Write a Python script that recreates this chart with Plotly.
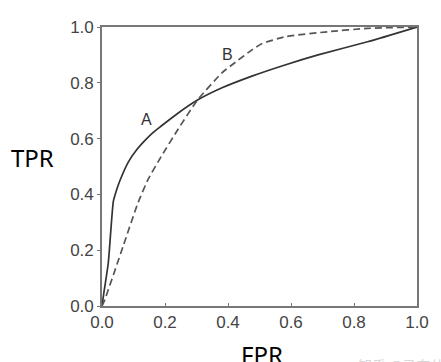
import plotly.graph_objects as go

# Curve A (solid)
fpr_a = [0, 0.005, 0.02, 0.036, 0.046, 0.057, 0.083, 0.11, 0.135, 0.16, 0.188, 0.24, 0.303, 0.381, 0.476, 0.581, 0.686, 0.843, 1.0]
tpr_a = [0, 0.04, 0.155, 0.375, 0.415, 0.45, 0.515, 0.56, 0.592, 0.62, 0.645, 0.69, 0.738, 0.782, 0.824, 0.864, 0.9, 0.947, 1.0]

# Curve B (dashed)
fpr_b = [0, 0.009, 0.067, 0.114, 0.146, 0.188, 0.24, 0.303, 0.381, 0.424, 0.476, 0.507, 0.581, 0.717, 0.843, 1.0]
tpr_b = [0, 0.023, 0.214, 0.369, 0.453, 0.536, 0.631, 0.738, 0.836, 0.874, 0.918, 0.94, 0.965, 0.983, 0.995, 1.0]

tick_vals = [0.0, 0.2, 0.4, 0.6, 0.8, 1.0]
tick_text = ["0.0", "0.2", "0.4", "0.6", "0.8", "1.0"]

W, H = 441, 362
L, R, T, B = 102, 21, 27, 55.5
pw, ph = W - L - R, H - T - B

def px(x):
    return (x - L) / pw

def py(y):
    return (H - B - y) / ph

fig = go.Figure()
fig.add_trace(go.Scatter(x=fpr_a, y=tpr_a, mode="lines", line=dict(color="#333333", width=1.7, shape="spline", smoothing=0.5), showlegend=False))
fig.add_trace(go.Scatter(x=fpr_b, y=tpr_b, mode="lines", line=dict(color="#555555", width=1.7, dash="7px,4px", shape="spline", smoothing=0.5), showlegend=False))

axis_common = dict(range=[0, 1], tickvals=tick_vals, ticktext=tick_text, showgrid=False, zeroline=False,
                   showline=True, linecolor="#777777", linewidth=1.6, mirror=True,
                   ticklen=3, tickcolor="#777777", tickwidth=1,
                   tickfont=dict(family="Liberation Sans, Arial, sans-serif", size=17, color="#444444"))
fig.update_xaxes(**axis_common, ticks="inside")
fig.update_yaxes(**axis_common, ticks="outside")

fig.add_annotation(x=0.14, y=0.667, text="A", showarrow=False, font=dict(family="Liberation Sans, Arial", size=16, color="#333333"))
fig.add_annotation(x=0.397, y=0.9, text="B", showarrow=False, font=dict(family="Liberation Sans, Arial", size=16, color="#333333"))

fig.add_annotation(xref="paper", yref="paper", x=px(31.5), y=py(157.5), xanchor="center", yanchor="middle",
                   text="TPR", showarrow=False,
                   font=dict(family="Noto Sans, Open Sans, sans-serif", size=24, color="#000000"))
fig.add_annotation(xref="paper", yref="paper", x=px(264), y=py(355), xanchor="center", yanchor="middle",
                   text="FPR", showarrow=False,
                   font=dict(family="Noto Sans, Open Sans, sans-serif", size=24, color="#000000"))
fig.add_annotation(xref="paper", yref="paper", x=px(358), y=py(354), xanchor="left", yanchor="top",
                   text="知乎 @马东什么", showarrow=False,
                   font=dict(family="Noto Sans CJK SC", size=14, color="#d8d8d8"))

fig.update_layout(width=W, height=H, margin=dict(l=L, r=R, t=T, b=B),
                  paper_bgcolor="white", plot_bgcolor="white")

fig.write_html("out.html")
